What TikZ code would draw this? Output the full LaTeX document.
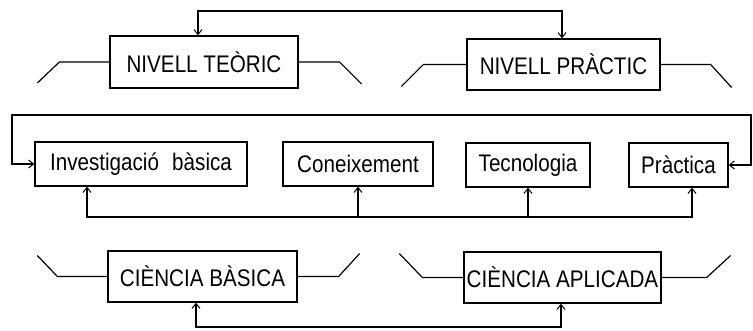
\documentclass[tikz,border=0pt]{standalone}
\usepackage{fontspec}
\setmainfont{Liberation Sans}[FakeStretch=0.86]
\usetikzlibrary{arrows.meta}
\begin{document}
\begin{tikzpicture}[x=1pt,y=-1pt,
  box/.style={draw,line width=1.3pt,inner sep=0pt,font=\fontsize{24}{28}\selectfont},
  ln/.style={line width=1.2pt},
  arr/.style={ln,-{Straight Barb[length=5pt,width=8pt,line width=1pt]}},
  darr/.style={ln,{Straight Barb[length=5pt,width=8pt,line width=1pt]}-{Straight Barb[length=5pt,width=8pt,line width=1pt]}}]
\useasboundingbox (0,0) rectangle (753,330);
% top boxes
\node[box,minimum width=188pt,minimum height=52pt] (teo) at (204,62) {NIVELL TEÒRIC};
\node[box,minimum width=193pt,minimum height=51pt] (pra) at (563.5,64.5) {NIVELL PRÀCTIC};
% middle boxes
\node[box,minimum width=212pt,minimum height=44pt] (inv) at (141,164) {Investigació\hspace{0.55em}bàsica};
\node[box,minimum width=150pt,minimum height=44pt] (con) at (358,164) {Coneixement};
\node[box,minimum width=124pt,minimum height=44pt] (tec) at (528,165) {Tecnologia};
\node[box,minimum width=99pt,minimum height=44pt] (prc) at (678.5,165) {Pràctica};
% bottom boxes
\node[box,minimum width=189pt,minimum height=51pt] (cb) at (202.5,276.5) {CIÈNCIA BÀSICA};
\node[box,minimum width=197pt,minimum height=51pt] (ca) at (562.5,277.5) {CIÈNCIA APLICADA};
% side lines
\draw[ln] (teo.west) -- ++(-50,0) -- ++(-22,21);
\draw[ln] (teo.east) -- ++(41,0) -- ++(22,22);
\draw[ln] (pra.west) -- ++(-43,0) -- ++(-22,22);
\draw[ln] (pra.east) -- ++(50,0) -- ++(21,23);
\draw[ln] (cb.west) -- ++(-50,0) -- ++(-20,-21);
\draw[ln] (cb.east) -- ++(41,0) -- ++(21,-23);
\draw[ln] (ca.west) -- ++(-41,0) -- ++(-23,-24);
\draw[ln] (ca.east) -- ++(45,0) -- ++(24,-22);
% top connector
\coordinate (t1) at (198,11);
\coordinate (t2) at (562,11);
\draw[darr] (teo.north -| t1) -- (t1) -- (t2) -- (pra.north -| t2);
% outer loop
\coordinate (o1) at (12,115);
\coordinate (o2) at (751,115);
\draw[darr] (inv.west) -- (inv.west -| o1) -- (o1) -- (o2) -- (prc.east -| o2) -- (prc.east);
% lower distribution
\coordinate (b1) at (87,217);
\coordinate (b2) at (692,217);
\draw[darr] (inv.south -| b1) -- (b1) -- (b2) -- (prc.south -| b2);
\draw[arr] (con.south |- b1) -- (con.south);
\draw[arr] (tec.south |- b1) -- (tec.south);
% bottom connector
\coordinate (c1) at (196,327);
\coordinate (c2) at (561,327);
\draw[darr] (cb.south -| c1) -- (c1) -- (c2) -- (ca.south -| c2);
\end{tikzpicture}
\end{document}
